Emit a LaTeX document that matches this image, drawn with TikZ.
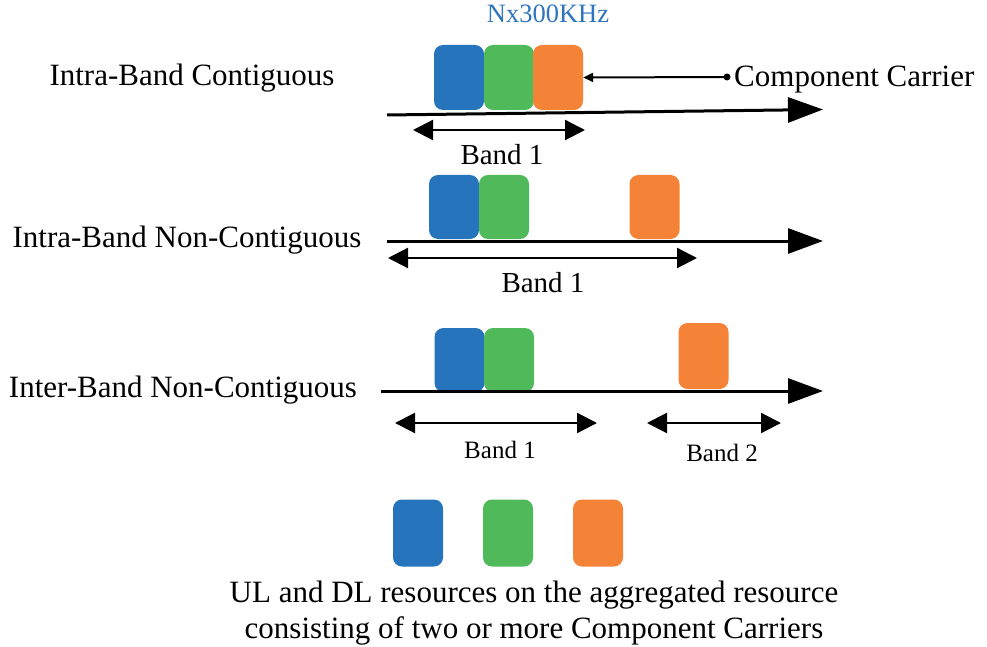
\documentclass[tikz,border=0pt]{standalone}
\usepackage{fontspec}
\setmainfont{Liberation Serif}
\usetikzlibrary{arrows.meta}
\definecolor{ccblue}{RGB}{38,116,188}
\definecolor{ccgreen}{RGB}{80,185,90}
\definecolor{ccorange}{RGB}{244,130,55}
\definecolor{labelblue}{RGB}{46,117,190}
\tikzset{
  carrier/.style={rectangle, rounded corners=9pt, inner sep=0pt, minimum width=50pt, minimum height=65pt},
  bigtext/.style={anchor=base, inner sep=0pt, font=\fontsize{31}{37}\selectfont},
  bandtext/.style={anchor=base, inner sep=0pt, font=\fontsize{29}{35}\selectfont},
  smalltext/.style={anchor=base, inner sep=0pt, font=\fontsize{25}{30}\selectfont},
  axis/.style={line width=3pt, -{Triangle[length=35pt,width=25pt]}},
  span/.style={line width=2.2pt, {Triangle[length=20pt,width=20pt]}-{Triangle[length=20pt,width=20pt]}},
  pointer/.style={line width=2pt, -{Triangle[length=10pt,width=9pt]}},
}
\begin{document}
\begin{tikzpicture}[x=1pt, y=-1pt]
\useasboundingbox (0,0) rectangle (987,647);

% ---- Intra-band contiguous ----
\node[bigtext] (lab1) at (192,86) {Intra-Band Contiguous};
\node[anchor=base, inner sep=0pt, text=labelblue, font=\fontsize{26.5}{32}\selectfont] (nx) at (548,23) {Nx300KHz};
\node[carrier, fill=ccblue]   (b1) at (459,77.5) {};
\node[carrier, fill=ccgreen]  (g1) at (509,77.5) {};
\node[carrier, fill=ccorange] (o1) at (558,77.5) {};
\coordinate (ax1s) at (387,115);
\coordinate (ax1e) at (823,109.5);
\draw[axis] (ax1s) -- (ax1e);
\coordinate (bd1s) at (413,130);
\coordinate (bd1e) at (585,130);
\draw[span] (bd1s) -- (bd1e);
\node[bandtext] (bt1) at (502,165) {Band 1};
\coordinate (ccdot) at (727,77);
\fill (ccdot) circle (3.5pt);
\draw[pointer] (ccdot) -- (o1.east);
\node[bigtext, anchor=base west] (cct) at (734,87) {Component Carrier};

% ---- Intra-band non-contiguous ----
\node[bigtext] (lab2) at (187,247) {Intra-Band Non-Contiguous};
\node[carrier, fill=ccblue,   minimum height=64pt] (b2) at (454,207) {};
\node[carrier, fill=ccgreen,  minimum height=64pt] (g2) at (504,207) {};
\node[carrier, fill=ccorange, minimum height=64pt] (o2) at (654.5,207) {};
\coordinate (ax2s) at (387,241);
\coordinate (ax2e) at (823,241);
\draw[axis] (ax2s) -- (ax2e);
\coordinate (bd2s) at (388,258);
\coordinate (bd2e) at (697,258);
\draw[span] (bd2s) -- (bd2e);
\node[bandtext] (bt2) at (543,292) {Band 1};

% ---- Inter-band non-contiguous ----
\node[bigtext] (lab3) at (183,397) {Inter-Band Non-Contiguous};
\node[carrier, fill=ccblue,   minimum height=64pt] (b3) at (459.5,360) {};
\node[carrier, fill=ccgreen,  minimum height=64pt] (g3) at (509,360) {};
\node[carrier, fill=ccorange, minimum height=66pt] (o3) at (703.5,356) {};
\coordinate (ax3s) at (381,391);
\coordinate (ax3e) at (823,391);
\draw[axis] (ax3s) -- (ax3e);
\coordinate (bd3s) at (395,423);
\coordinate (bd3e) at (597,423);
\draw[span] (bd3s) -- (bd3e);
\coordinate (bd4s) at (647,423);
\coordinate (bd4e) at (781,423);
\draw[span] (bd4s) -- (bd4e);
\node[smalltext] (bt3) at (500,458) {Band 1};
\node[smalltext] (bt4) at (722,461) {Band 2};

% ---- Legend ----
\node[carrier, fill=ccblue,   minimum height=67pt] (lb) at (418,533) {};
\node[carrier, fill=ccgreen,  minimum height=67pt] (lg) at (508,533) {};
\node[carrier, fill=ccorange, minimum height=67pt] (lo) at (598,533) {};
\node[bigtext] (leg1) at (534,602) {UL and DL resources on the aggregated resource};
\node[bigtext] (leg2) at (534,638) {consisting of two or more Component Carriers};
\end{tikzpicture}
\end{document}
